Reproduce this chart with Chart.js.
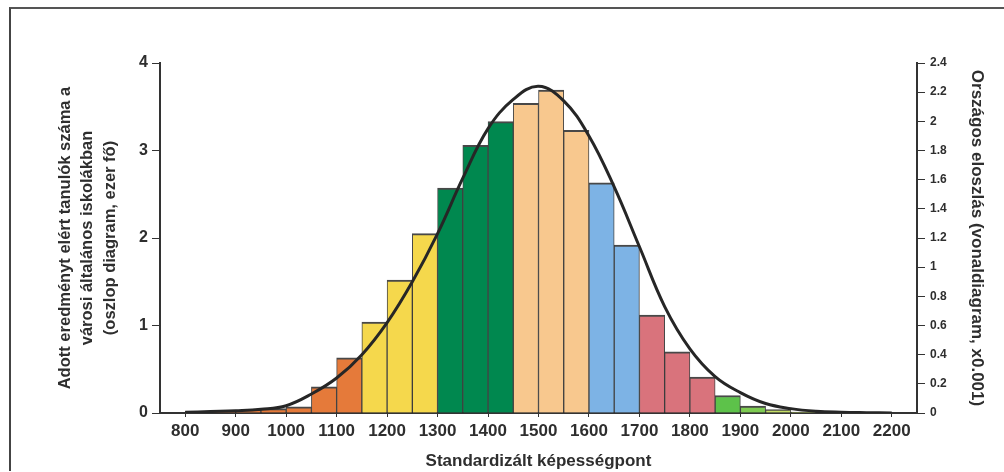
<!DOCTYPE html>
<html>
<head>
<meta charset="utf-8">
<script src="https://cdn.jsdelivr.net/npm/chart.js@4.4.1/dist/chart.umd.min.js"></script>
<style>
  html, body { margin: 0; padding: 0; background: #fff; }
  #wrap { position: relative; width: 1004px; height: 472px; }
  #frame { position: absolute; left: 9px; top: 7px; width: 1010px; height: 462px;
           border-top: 2px solid #555; border-left: 2px solid #444; pointer-events: none; }
</style>
</head>
<body>
<div id="wrap">
  <canvas id="c" width="1004" height="472"></canvas>
  <div id="frame"></div>
</div>
<script>
// ---- data ----
const binWidth = 50;
const binStarts = [800, 850, 900, 950, 1000, 1050, 1100, 1150, 1200, 1250, 1300, 1350, 1400,
                   1450, 1500, 1550, 1600, 1650, 1700, 1750, 1800, 1850, 1900, 1950, 2000];
// students per bin in city primary schools (thousand)
const studentCounts = [0.02, 0.02, 0.03, 0.05, 0.07, 0.30, 0.63, 1.04, 1.52, 2.05, 2.57, 3.06, 3.33,
                       3.54, 3.69, 3.23, 2.63, 1.92, 1.12, 0.70, 0.41, 0.20, 0.08, 0.04, 0.01];
const barColors = ['#E57A3A', '#E57A3A', '#E57A3A', '#E57A3A', '#E57A3A', '#E57A3A', '#E57A3A',
                   '#F5D84C', '#F5D84C', '#F5D84C',
                   '#00884F', '#00884F', '#00884F',
                   '#F8C88E', '#F8C88E', '#F8C88E',
                   '#7DB3E5', '#7DB3E5',
                   '#D9737C', '#D9737C', '#D9737C',
                   '#5DC24A', '#7ECB52', '#C5DE66', '#C5DE66'];
// national distribution curve (x0.001)
const curveX = [800, 850, 900, 950, 1000, 1050, 1100, 1150, 1200, 1250, 1300, 1350, 1400, 1450,
                1500, 1550, 1600, 1650, 1700, 1750, 1800, 1850, 1900, 1950, 2000, 2050, 2100, 2150, 2200];
const curveY = [0.005, 0.01, 0.015, 0.025, 0.05, 0.13, 0.24, 0.40, 0.62, 0.90, 1.23, 1.61, 1.95, 2.15,
                2.24, 2.14, 1.90, 1.55, 1.14, 0.73, 0.44, 0.25, 0.14, 0.065, 0.03, 0.012, 0.005, 0.002, 0];
const xTicks = [800, 900, 1000, 1100, 1200, 1300, 1400, 1500, 1600, 1700, 1800, 1900, 2000, 2100, 2200];
const leftTicks = [0, 1, 2, 3, 4];
const rightTicks = [0, 0.2, 0.4, 0.6, 0.8, 1, 1.2, 1.4, 1.6, 1.8, 2, 2.2, 2.4];
const rightTickLabels = ['0', '0.2', '0.4', '0.6', '0.8', '1', '1.2', '1.4', '1.6', '1.8', '2', '2.2', '2.4'];

const xTitle = 'Standardizált képességpont';
const leftTitle = ['Adott eredményt elért tanulók száma a', 'városi általános iskolákban', '(oszlop diagram, ezer fő)'];
const rightTitle = 'Országos eloszlás (vonaldiagram, x0.001)';

// ---- chart ----
const FONT = '"Liberation Sans", Arial, sans-serif';
const INK = '#2e2e2e';

const barData = binStarts.map((s, i) => ({ x: s + binWidth / 2, y: studentCounts[i] }));
const lineData = curveX.map((x, i) => ({ x: x, y: curveY[i] }));

new Chart(document.getElementById('c'), {
  type: 'bar',
  data: {
    datasets: [
      {
        type: 'line',
        data: lineData,
        yAxisID: 'y1',
        borderColor: '#262626',
        borderWidth: 3,
        pointRadius: 0,
        tension: 0.4,
        fill: false,
        order: 0
      },
      {
        type: 'bar',
        data: barData,
        yAxisID: 'y',
        backgroundColor: barColors,
        borderColor: 'rgba(40,40,40,0.85)',
        borderWidth: { top: 2, left: 1, right: 1, bottom: 0 },
        borderSkipped: 'bottom',
        barPercentage: 1,
        categoryPercentage: 1,
        grouped: false,
        order: 1
      }
    ]
  },
  options: {
    responsive: false,
    animation: false,
    plugins: { legend: { display: false }, tooltip: { enabled: false } },
    layout: { padding: { left: 50, right: 10, top: 63, bottom: 0 } },
    scales: {
      x: {
        type: 'linear',
        offset: false,
        min: 750,
        max: 2250,
        afterBuildTicks: (axis) => { axis.ticks = xTicks.map(v => ({ value: v })); },
        afterFit: (scale) => { scale.height = 59; },
        ticks: { font: { family: FONT, size: 17, weight: 'bold' }, color: INK, padding: 4, maxRotation: 0,
                 callback: (v) => String(v) },
        grid: { drawOnChartArea: false, drawTicks: true, tickLength: 4, color: '#333', offset: false },
        border: { display: true, color: '#333', width: 2 },
        title: { display: true, text: xTitle, font: { family: FONT, size: 17, weight: 'bold', lineHeight: 1.2 }, color: INK,
                 padding: { top: 0, bottom: 0 } }
      },
      y: {
        position: 'left',
        min: 0,
        max: 4,
        afterBuildTicks: (axis) => { axis.ticks = leftTicks.map(v => ({ value: v })); },
        afterFit: (scale) => { scale.width = 110; },
        ticks: { font: { family: FONT, size: 16, weight: 'bold' }, color: INK, padding: 4 },
        grid: { drawOnChartArea: false, drawTicks: true, tickLength: 8, color: '#333' },
        border: { display: true, color: '#333', width: 2 },
        title: { display: true, text: leftTitle, font: { family: FONT, size: 16.5, weight: 'bold', lineHeight: 1.36 },
                 color: INK, padding: { top: 4, bottom: 0 } }
      },
      y1: {
        position: 'right',
        min: 0,
        max: 2.4,
        afterBuildTicks: (axis) => { axis.ticks = rightTicks.map(v => ({ value: v })); },
        afterFit: (scale) => { scale.width = 77; },
        ticks: { font: { family: FONT, size: 12, weight: 'bold' }, color: INK, padding: 5,
                 callback: (v) => { const i = rightTicks.indexOf(v); return i >= 0 ? rightTickLabels[i] : ''; } },
        grid: { drawOnChartArea: false, drawTicks: true, tickLength: 8, color: '#333' },
        border: { display: true, color: '#333', width: 2 },
        title: { display: true, text: rightTitle, font: { family: FONT, size: 17, weight: 'bold', lineHeight: 1.3 },
                 color: INK, padding: { top: 6, bottom: 0 } }
      }
    }
  }
});
</script>
</body>
</html>
